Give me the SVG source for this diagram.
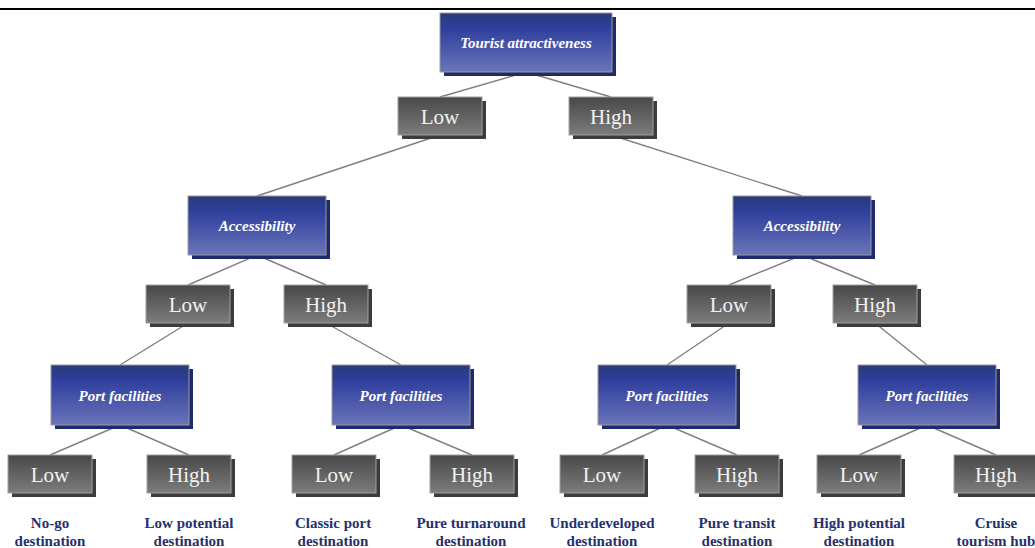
<svg xmlns="http://www.w3.org/2000/svg" width="1035" height="548" viewBox="0 0 1035 548">
<defs>
<linearGradient id="gBlue" x1="0" y1="0" x2="0" y2="1">
<stop offset="0" stop-color="#2a3a78"/>
<stop offset="0.25" stop-color="#2e3f9c"/>
<stop offset="1" stop-color="#6b74ba"/>
</linearGradient>
<linearGradient id="gGray" x1="0" y1="0" x2="0" y2="1">
<stop offset="0" stop-color="#484848"/>
<stop offset="1" stop-color="#7c7c7c"/>
</linearGradient>
</defs>
<style>
.bs{fill:#1f2a6a}
.b{fill:url(#gBlue);stroke:#9a9a9a;stroke-width:1}
.gs{fill:#3c3c3c}
.g{fill:url(#gGray);stroke:#a0a0a0;stroke-width:1}
.bt{font-family:"Liberation Serif",serif;font-weight:bold;font-style:italic;font-size:15px;fill:#ffffff;text-anchor:middle}
.gt{font-family:"Liberation Serif",serif;font-size:21px;fill:#f2f2f2;text-anchor:middle}
.lt{font-family:"Liberation Serif",serif;font-weight:bold;font-size:15px;fill:#26306e;text-anchor:middle}
#connectors line{stroke:#808080;stroke-width:1.4}
</style>
<rect x="0" y="8" width="1035" height="2" fill="#000"/>
<g id="connectors">
<line x1="526" y1="72" x2="440" y2="97"/>
<line x1="526" y1="72" x2="611" y2="97"/>
<line x1="440" y1="135" x2="257" y2="196"/>
<line x1="611" y1="135" x2="802" y2="196"/>
<line x1="257" y1="255" x2="188" y2="285"/>
<line x1="257" y1="255" x2="326" y2="285"/>
<line x1="802" y1="255" x2="729" y2="285"/>
<line x1="802" y1="255" x2="875" y2="285"/>
<line x1="188" y1="323" x2="120" y2="365"/>
<line x1="326" y1="323" x2="401" y2="365"/>
<line x1="729" y1="323" x2="667" y2="365"/>
<line x1="875" y1="323" x2="927" y2="365"/>
<line x1="120" y1="425" x2="50" y2="455"/>
<line x1="120" y1="425" x2="189" y2="455"/>
<line x1="401" y1="425" x2="334" y2="455"/>
<line x1="401" y1="425" x2="472" y2="455"/>
<line x1="667" y1="425" x2="602" y2="455"/>
<line x1="667" y1="425" x2="737" y2="455"/>
<line x1="927" y1="425" x2="859" y2="455"/>
<line x1="927" y1="425" x2="996" y2="455"/>
</g>
<g id="n-tourist"><rect class="bs" x="444" y="17" width="172" height="59"/><rect class="b" x="440" y="13" width="172" height="59"/><text class="bt" x="526" y="48">Tourist attractiveness</text></g>
<g id="n-l1-low"><rect class="gs" x="402" y="101" width="84" height="38"/><rect class="g" x="398" y="97" width="84" height="38"/><text class="gt" x="440" y="124">Low</text></g>
<g id="n-l1-high"><rect class="gs" x="573" y="101" width="84" height="38"/><rect class="g" x="569" y="97" width="84" height="38"/><text class="gt" x="611" y="124">High</text></g>
<g id="n-acc-left"><rect class="bs" x="192" y="200" width="138" height="59"/><rect class="b" x="188" y="196" width="138" height="59"/><text class="bt" x="257" y="231">Accessibility</text></g>
<g id="n-acc-right"><rect class="bs" x="737" y="200" width="138" height="59"/><rect class="b" x="733" y="196" width="138" height="59"/><text class="bt" x="802" y="231">Accessibility</text></g>
<g id="n-l3-low-a"><rect class="gs" x="150" y="289" width="84" height="38"/><rect class="g" x="146" y="285" width="84" height="38"/><text class="gt" x="188" y="312">Low</text></g>
<g id="n-l3-high-a"><rect class="gs" x="288" y="289" width="84" height="38"/><rect class="g" x="284" y="285" width="84" height="38"/><text class="gt" x="326" y="312">High</text></g>
<g id="n-l3-low-b"><rect class="gs" x="691" y="289" width="84" height="38"/><rect class="g" x="687" y="285" width="84" height="38"/><text class="gt" x="729" y="312">Low</text></g>
<g id="n-l3-high-b"><rect class="gs" x="837" y="289" width="84" height="38"/><rect class="g" x="833" y="285" width="84" height="38"/><text class="gt" x="875" y="312">High</text></g>
<g id="n-port-1"><rect class="bs" x="55" y="369" width="138" height="60"/><rect class="b" x="51" y="365" width="138" height="60"/><text class="bt" x="120" y="401">Port facilities</text></g>
<g id="n-port-2"><rect class="bs" x="336" y="369" width="138" height="60"/><rect class="b" x="332" y="365" width="138" height="60"/><text class="bt" x="401" y="401">Port facilities</text></g>
<g id="n-port-3"><rect class="bs" x="602" y="369" width="138" height="60"/><rect class="b" x="598" y="365" width="138" height="60"/><text class="bt" x="667" y="401">Port facilities</text></g>
<g id="n-port-4"><rect class="bs" x="862" y="369" width="138" height="60"/><rect class="b" x="858" y="365" width="138" height="60"/><text class="bt" x="927" y="401">Port facilities</text></g>
<g id="n-b1"><rect class="gs" x="12" y="459" width="84" height="38"/><rect class="g" x="8" y="455" width="84" height="38"/><text class="gt" x="50" y="482">Low</text><text class="lt" x="50" y="528">No-go</text><text class="lt" x="50" y="546">destination</text></g>
<g id="n-b2"><rect class="gs" x="151" y="459" width="84" height="38"/><rect class="g" x="147" y="455" width="84" height="38"/><text class="gt" x="189" y="482">High</text><text class="lt" x="189" y="528">Low potential</text><text class="lt" x="189" y="546">destination</text></g>
<g id="n-b3"><rect class="gs" x="296" y="459" width="84" height="38"/><rect class="g" x="292" y="455" width="84" height="38"/><text class="gt" x="334" y="482">Low</text><text class="lt" x="333" y="528">Classic port</text><text class="lt" x="333" y="546">destination</text></g>
<g id="n-b4"><rect class="gs" x="434" y="459" width="84" height="38"/><rect class="g" x="430" y="455" width="84" height="38"/><text class="gt" x="472" y="482">High</text><text class="lt" x="471" y="528">Pure turnaround</text><text class="lt" x="471" y="546">destination</text></g>
<g id="n-b5"><rect class="gs" x="564" y="459" width="84" height="38"/><rect class="g" x="560" y="455" width="84" height="38"/><text class="gt" x="602" y="482">Low</text><text class="lt" x="602" y="528">Underdeveloped</text><text class="lt" x="602" y="546">destination</text></g>
<g id="n-b6"><rect class="gs" x="699" y="459" width="84" height="38"/><rect class="g" x="695" y="455" width="84" height="38"/><text class="gt" x="737" y="482">High</text><text class="lt" x="737" y="528">Pure transit</text><text class="lt" x="737" y="546">destination</text></g>
<g id="n-b7"><rect class="gs" x="821" y="459" width="84" height="38"/><rect class="g" x="817" y="455" width="84" height="38"/><text class="gt" x="859" y="482">Low</text><text class="lt" x="859" y="528">High potential</text><text class="lt" x="859" y="546">destination</text></g>
<g id="n-b8"><rect class="gs" x="958" y="459" width="84" height="38"/><rect class="g" x="954" y="455" width="84" height="38"/><text class="gt" x="996" y="482">High</text><text class="lt" x="996" y="528">Cruise</text><text class="lt" x="996" y="546">tourism hub</text></g>
</svg>
